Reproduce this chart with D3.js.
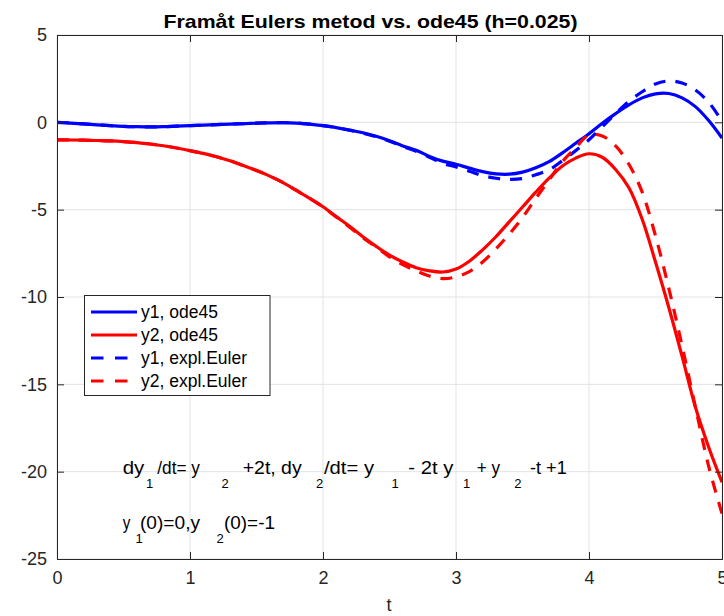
<!DOCTYPE html>
<html>
<head>
<meta charset="utf-8">
<script src="https://cdn.jsdelivr.net/npm/d3@7"></script>
<style>
  html, body { margin: 0; padding: 0; background: #fff; }
  svg { display: block; }
  text { font-family: "Liberation Sans", Arial, Helvetica, sans-serif; }
</style>
</head>
<body>
<svg id="chart" width="724" height="616"></svg>
<script>
// ---------------- data ----------------
const tValues = [0,0.1,0.2,0.3,0.4,0.5,0.6,0.7,0.8,0.9,1.0,1.1,1.2,1.3,1.4,1.5,1.6,1.7,1.8,1.9,2.0,
  2.1,2.2,2.3,2.4,2.5,2.6,2.7,2.8,2.9,3.0,3.1,3.2,3.3,3.4,3.5,3.6,3.7,3.8,3.9,4.0,
  4.1,4.2,4.3,4.4,4.5,4.6,4.7,4.8,4.9,5.0];

const y1Ode45 = [0,-0.04,-0.09,-0.14,-0.19,-0.23,-0.25,-0.26,-0.25,-0.22,-0.19,-0.16,-0.13,-0.10,-0.08,-0.05,-0.03,-0.02,-0.04,-0.10,-0.19,
  -0.30,-0.45,-0.60,-0.80,-1.05,-1.35,-1.60,-1.95,-2.22,-2.40,-2.62,-2.82,-2.95,-2.97,-2.85,-2.60,-2.25,-1.75,-1.20,-0.65,
  -0.05,0.50,1.00,1.40,1.63,1.65,1.40,0.90,0.10,-0.90];

const y2Ode45 = [-1.0,-1.01,-1.02,-1.04,-1.06,-1.10,-1.16,-1.24,-1.34,-1.47,-1.62,-1.78,-1.97,-2.20,-2.47,-2.76,-3.08,-3.45,-3.90,-4.35,-4.83,
  -5.40,-5.95,-6.55,-7.10,-7.60,-8.00,-8.32,-8.50,-8.57,-8.40,-7.95,-7.30,-6.55,-5.70,-4.85,-4.00,-3.20,-2.50,-2.05,-1.80,
  -2.00,-2.70,-3.75,-5.55,-8.00,-10.60,-13.40,-16.30,-18.60,-20.60];

const y1Euler = [0,-0.04,-0.09,-0.14,-0.19,-0.23,-0.25,-0.26,-0.25,-0.22,-0.19,-0.16,-0.13,-0.10,-0.08,-0.05,-0.03,-0.02,-0.04,-0.10,-0.19,
  -0.30,-0.45,-0.62,-0.82,-1.08,-1.38,-1.65,-2.00,-2.35,-2.55,-2.80,-3.05,-3.20,-3.27,-3.22,-3.00,-2.72,-2.20,-1.62,-1.00,
  -0.25,0.50,1.20,1.75,2.20,2.37,2.25,1.85,1.15,0.07];

const y2Euler = [-1.0,-1.01,-1.02,-1.04,-1.06,-1.10,-1.16,-1.24,-1.34,-1.47,-1.62,-1.78,-1.97,-2.20,-2.47,-2.76,-3.08,-3.45,-3.90,-4.35,-4.85,
  -5.42,-6.00,-6.60,-7.15,-7.70,-8.15,-8.50,-8.80,-8.95,-8.85,-8.55,-8.00,-7.25,-6.40,-5.45,-4.35,-3.30,-2.25,-1.45,-0.72,
  -0.78,-1.35,-2.40,-4.00,-6.50,-9.50,-12.80,-16.30,-19.70,-22.40];

const seriesNames = ["y1, ode45", "y2, ode45", "y1, expl.Euler", "y2, expl.Euler"];
const seriesValues = [y1Ode45, y2Ode45, y1Euler, y2Euler];
const seriesColors = ["#0000ff", "#ff0000", "#0000ff", "#ff0000"];
const seriesDashed = [false, false, true, true];

const xTicks = [0, 1, 2, 3, 4, 5];
const yTicks = [5, 0, -5, -10, -15, -20, -25];
const titleText = "Framåt Eulers metod vs. ode45 (h=0.025)";
const xLabelText = "t";

// ---------------- layout ----------------
const svg = d3.select("#chart");
const L = 57, R = 722, T = 35, B = 559;
const x = d3.scaleLinear().domain([0, 5]).range([L, R]);
const y = d3.scaleLinear().domain([-25, 5]).range([B, T]);
const axisColor = "#262626";
const gridColor = "#e3e3e3";

// grid
const grid = svg.append("g");
grid.selectAll("line.gx").data(xTicks).join("line")
  .attr("x1", d => x(d)).attr("x2", d => x(d)).attr("y1", T).attr("y2", B)
  .attr("stroke", gridColor).attr("stroke-width", 1);
grid.selectAll("line.gy").data(yTicks).join("line")
  .attr("y1", d => y(d)).attr("y2", d => y(d)).attr("x1", L).attr("x2", R)
  .attr("stroke", gridColor).attr("stroke-width", 1);

// clip
svg.append("clipPath").attr("id", "clip").append("rect")
  .attr("x", L).attr("y", T).attr("width", R - L).attr("height", B - T);

// lines
const lineGen = d3.line()
  .x((d, i) => x(tValues[i]))
  .y(d => y(d))
  .curve(d3.curveCatmullRom.alpha(0.5));

const plotG = svg.append("g").attr("clip-path", "url(#clip)");
seriesValues.forEach((vals, k) => {
  plotG.append("path")
    .attr("d", lineGen(vals))
    .attr("fill", "none")
    .attr("stroke", seriesColors[k])
    .attr("stroke-width", 3.2)
    .attr("stroke-dasharray", seriesDashed[k] ? "12,10" : null)
    .attr("stroke-linejoin", "round");
});

// axes
const tickLen = 7;
const fmt = d => String(d);
const xAxisB = d3.axisBottom(x).tickValues(xTicks).tickSize(-tickLen).tickPadding(12).tickFormat(fmt);
const xAxisT = d3.axisTop(x).tickValues(xTicks).tickSize(-tickLen).tickFormat("");
const yAxisL = d3.axisLeft(y).tickValues(yTicks).tickSize(-tickLen).tickPadding(10).tickFormat(fmt);
const yAxisR = d3.axisRight(y).tickValues(yTicks).tickSize(-tickLen).tickFormat("");

function styleAxis(g) {
  g.select(".domain").attr("stroke", axisColor).attr("stroke-width", 1);
  g.selectAll(".tick line").attr("stroke", axisColor).attr("stroke-width", 1);
  g.selectAll(".tick text").attr("fill", "#262626").style("font-size", "18px")
    .style("font-family", "'Liberation Sans', Arial, sans-serif");
}
svg.append("g").attr("transform", `translate(0,${B})`).call(xAxisB).call(styleAxis);
svg.append("g").attr("transform", `translate(0,${T})`).call(xAxisT).call(styleAxis);
svg.append("g").attr("transform", `translate(${L},0)`).call(yAxisL).call(styleAxis);
svg.append("g").attr("transform", `translate(${R},0)`).call(yAxisR).call(styleAxis);

// title
svg.append("text").attr("x", 163.5).attr("y", 27.5).attr("text-anchor", "start")
  .attr("font-weight", "bold").attr("font-size", 18.5).attr("fill", "#000")
  .attr("textLength", 414).attr("lengthAdjust", "spacingAndGlyphs")
  .text(titleText);

// x label
svg.append("text").attr("x", 389).attr("y", 611).attr("text-anchor", "middle")
  .attr("font-size", 18).attr("fill", "#262626").text(xLabelText);

// legend
const lg = svg.append("g");
lg.append("rect").attr("x", 84.5).attr("y", 295.5).attr("width", 185.5).attr("height", 100)
  .attr("fill", "#fff").attr("stroke", axisColor).attr("stroke-width", 1);
const legendY = [312, 335, 358, 381];
seriesNames.forEach((name, k) => {
  lg.append("line").attr("x1", 91).attr("x2", 137).attr("y1", legendY[k]).attr("y2", legendY[k])
    .attr("stroke", seriesColors[k]).attr("stroke-width", 3.2)
    .attr("stroke-dasharray", seriesDashed[k] ? "12.5,11.5" : null);
  lg.append("text").attr("x", 141).attr("y", legendY[k] + 6).attr("font-size", 17.5).attr("fill", "#000")
    .text(name);
});

// annotations (TeX-like with subscripts)
const eqLine1 = [
  {s: "dy", x: 122.7, w: 21.6}, {s: "1", x: 146, sub: true}, {s: "/dt= y", x: 157.3, w: 42.7}, {s: "2", x: 221.5, sub: true},
  {s: "+2t, dy", x: 242.7, w: 59}, {s: "2", x: 316, sub: true}, {s: "/dt= y", x: 324, w: 50}, {s: "1", x: 391.5, sub: true},
  {s: "- 2t y", x: 408.3, w: 45}, {s: "1", x: 463, sub: true}, {s: "+ y", x: 476.7, w: 23.3}, {s: "2", x: 514.3, sub: true},
  {s: "-t +1", x: 530, w: 36.7}
];
const eqLine2 = [
  {s: "y", x: 122.7, w: 7.6}, {s: "1", x: 135.5, sub: true}, {s: "(0)=0,y", x: 140, w: 60}, {s: "2", x: 216.5, sub: true},
  {s: "(0)=-1", x: 224, w: 51}
];
function drawEq(parts, baseY) {
  parts.forEach(p => {
    const t = svg.append("text").attr("fill", "#000")
      .attr("x", p.x).attr("y", p.sub ? baseY + 14 : baseY)
      .attr("font-size", p.sub ? 13 : 17.5).text(p.s);
    if (p.w) t.attr("textLength", p.w).attr("lengthAdjust", "spacingAndGlyphs");
  });
}
drawEq(eqLine1, 473.5);
drawEq(eqLine2, 528.5);
</script>
</body>
</html>
